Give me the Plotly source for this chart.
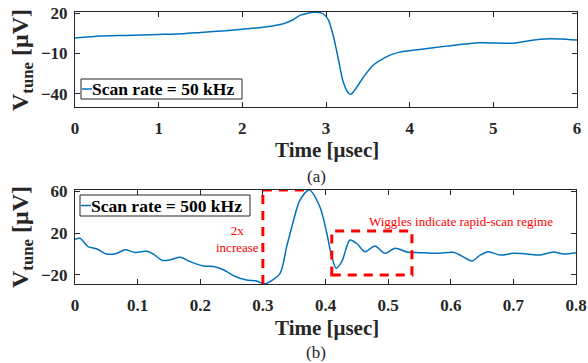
import plotly.graph_objects as go

# ---- data ----
t50 = [0, 0.3, 0.6, 1.0, 1.3, 1.5, 1.8, 2.0, 2.2, 2.48, 2.6, 2.69, 2.78, 2.85, 2.92,
       2.97, 3.03, 3.09, 3.15, 3.2, 3.26, 3.29, 3.31, 3.37, 3.45, 3.56, 3.72, 3.88,
       4.12, 4.44, 4.84, 5.24, 5.56, 5.8, 6.0]
v50 = [1.5, 3, 3.5, 4.2, 4.8, 5.7, 7, 8.2, 9.2, 12, 15, 18.5, 20, 20.8, 20.6,
       19.5, 15, 2.5, -15, -30, -39, -40.5, -40, -35, -27.5, -19, -12.5, -9,
       -7, -4.5, -2, -2.3, 0.7, 0.8, 0]

t500 = [0, 0.008, 0.021, 0.035, 0.05, 0.066, 0.08, 0.096, 0.115, 0.125, 0.139, 0.152,
        0.168, 0.184, 0.205, 0.221, 0.237, 0.256, 0.274, 0.29, 0.3, 0.306, 0.327,
        0.338, 0.349, 0.359, 0.374, 0.391, 0.402, 0.41, 0.417, 0.426, 0.439, 0.45,
        0.463, 0.479, 0.495, 0.511, 0.53, 0.551, 0.578, 0.604, 0.618, 0.634, 0.647,
        0.66, 0.679, 0.7, 0.722, 0.743, 0.764, 0.78, 0.8]
v500 = [14, 15, 7, 4.8, 0, 0.5, 4, 1.5, 2.7, 0, -6, -5.5,
        -3.2, -7.3, -11.4, -12, -15, -21.5, -24.8, -25.7, -28.3, -28, -19,
        7, 32, 51, 61, 45, 20, -2.6, -13.6, -7.3, 13.3, 10,
        2.2, 7.6, 0.6, 5.4, 2, 1.3, 0.6, 1.6, -2, -6.7, -1,
        2.2, -1, 0.6, 0, -1, 2, 0, 1.3]

x_ticks_a = [0, 1, 2, 3, 4, 5, 6]
y_ticks_a = [-40, -10, 20]
x_ticks_b = [0, 0.1, 0.2, 0.3, 0.4, 0.5, 0.6, 0.7, 0.8]
y_ticks_b = [-20, 20, 60]
legend_a = "Scan rate = 50 kHz"
legend_b = "Scan rate = 500 kHz"
x_title = "Time [μsec]"
y_title = "<b>V<sub>tune</sub> [μV]</b>"
note_increase = "2x<br>increase"
note_wiggles = "Wiggles indicate rapid-scan regime"

W, H = 588, 363
def px(x): return x / W
def py(y): return 1 - y / H

blue = "#0072BD"
axcol = "#262626"
red = "#FF0000"
serif = "Liberation Serif"

fig = go.Figure()
fig.add_trace(go.Scatter(x=t50, y=v50, mode="lines", xaxis="x", yaxis="y",
                         line=dict(color=blue, width=1.5, shape="spline", smoothing=0.6),
                         showlegend=False))
fig.add_trace(go.Scatter(x=t500, y=v500, mode="lines", xaxis="x2", yaxis="y2",
                         line=dict(color=blue, width=1.5, shape="spline", smoothing=0.8),
                         showlegend=False))

def ax(**kw):
    d = dict(showline=True, linecolor=axcol, linewidth=1, mirror="ticks",
             ticks="inside", ticklen=5, tickcolor=axcol, showgrid=False, zeroline=False,
             tickfont=dict(family=serif, size=17, color=axcol, weight="bold"),
             automargin=False)
    d.update(kw)
    return d

fig.update_layout(
    width=W, height=H, margin=dict(l=0, r=0, t=0, b=0),
    paper_bgcolor="white", plot_bgcolor="white",
    xaxis=ax(domain=[px(75), px(577)], range=[0, 6], tickvals=x_ticks_a,
             anchor="y", ticklabelstandoff=6),
    yaxis=ax(domain=[py(107), py(12)], range=[-50, 21], tickvals=y_ticks_a,
             anchor="x", ticklabelstandoff=3),
    xaxis2=ax(domain=[px(75), px(576)], range=[0, 0.8], tickvals=x_ticks_b,
              ticktext=[("%g" % v) for v in x_ticks_b], anchor="y2", ticklabelstandoff=6),
    yaxis2=ax(domain=[py(284), py(190)], range=[-28.6, 61], tickvals=y_ticks_b,
              anchor="x2", ticklabelstandoff=3),
)

ann = []
for yc, lab, ylab in [(150, "(a)", 176), (328, "(b)", 352)]:
    ann.append(dict(text="<b>" + x_title + "</b>", x=px(327), y=py(yc), xref="paper", yref="paper",
                    showarrow=False, xanchor="center", yanchor="middle",
                    font=dict(family=serif, size=21, color=axcol)))
    ann.append(dict(text=lab, x=px(316), y=py(ylab), xref="paper", yref="paper",
                    showarrow=False, xanchor="center", yanchor="middle",
                    font=dict(family=serif, size=17, color=axcol)))
for yc in [60, 237]:
    ann.append(dict(text=y_title, x=px(22), y=py(yc), xref="paper", yref="paper",
                    showarrow=False, xanchor="center", yanchor="middle", textangle=-90,
                    font=dict(family=serif, size=24, color=axcol)))

shapes = []
# legends
for (x0, x1, y0, y1, txt) in [(81, 242, 79, 99, legend_a), (80, 250, 195, 216, legend_b)]:
    shapes.append(dict(type="rect", xref="paper", yref="paper", x0=px(x0), x1=px(x1),
                       y0=py(y1), y1=py(y0), line=dict(color=axcol, width=1), fillcolor="white"))
    ym = (y0 + y1) / 2
    shapes.append(dict(type="line", xref="paper", yref="paper", x0=px(x0 + 1), x1=px(x0 + 11),
                       y0=py(ym), y1=py(ym), line=dict(color=blue, width=1.5)))
    ann.append(dict(text="<b>" + txt + "</b>", x=px(x0 + 9), y=py(ym), xref="paper", yref="paper",
                    showarrow=False, xanchor="left", yanchor="middle",
                    font=dict(family=serif, size=17.5, color="black")))

# red dashed annotations
dash = dict(color=red, width=3, dash="9px,7px")
shapes.append(dict(type="line", xref="x2", yref="y2", x0=0.3, x1=0.3, y0=-28.6, y1=61, line=dash))
shapes.append(dict(type="line", xref="x2", yref="y2", x0=0.3, x1=0.374, y0=61, y1=61, line=dash))
shapes.append(dict(type="rect", xref="x2", yref="y2", x0=0.41, x1=0.538, y0=-20, y1=22, line=dash))

ann.append(dict(text=note_increase, x=px(237), y=py(239), xref="paper", yref="paper",
                showarrow=False, xanchor="center", yanchor="middle",
                font=dict(family=serif, size=13, color=red)))
ann.append(dict(text=note_wiggles, x=px(461), y=py(221), xref="paper", yref="paper",
                showarrow=False, xanchor="center", yanchor="middle",
                font=dict(family=serif, size=13, color=red)))

fig.update_layout(annotations=ann, shapes=shapes)
fig.write_html("out.html", config={"displayModeBar": False},
               post_script="document.body.style.margin='0px';document.body.style.overflow='hidden';")
